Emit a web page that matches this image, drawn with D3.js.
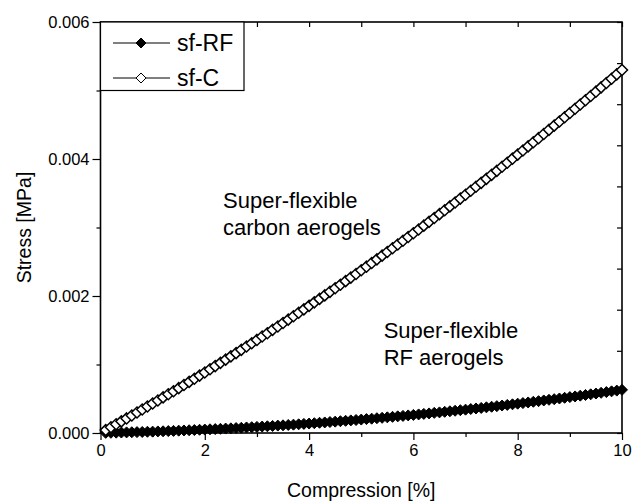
<!DOCTYPE html>
<html><head><meta charset="utf-8">
<script src="https://cdn.jsdelivr.net/npm/d3@7"></script>
<style>body{margin:0;background:#fff;} text{font-family:"Liberation Sans",Arial,sans-serif;fill:#000;}</style>
</head><body><svg id="c" width="635" height="503"></svg>
<script>
const compression = [0.1,0.2,0.3,0.4,0.5,0.6,0.7,0.8,0.9,1.0,1.1,1.2,1.3,1.4,1.5,1.6,1.7,1.8,1.9,2.0,2.1,2.2,2.3,2.4,2.5,2.6,2.7,2.8,2.9,3.0,3.1,3.2,3.3,3.4,3.5,3.6,3.7,3.8,3.9,4.0,4.1,4.2,4.3,4.4,4.5,4.6,4.7,4.8,4.9,5.0,5.1,5.2,5.3,5.4,5.5,5.6,5.7,5.8,5.9,6.0,6.1,6.2,6.3,6.4,6.5,6.6,6.7,6.8,6.9,7.0,7.1,7.2,7.3,7.4,7.5,7.6,7.7,7.8,7.9,8.0,8.1,8.2,8.3,8.4,8.5,8.6,8.7,8.8,8.9,9.0,9.1,9.2,9.3,9.4,9.5,9.6,9.7,9.8,9.9,10.0];
const stressRF = [0.000002,0.000003,0.000005,0.000007,0.000009,0.000011,0.000013,0.000015,0.000018,0.000020,0.000023,0.000025,0.000028,0.000031,0.000034,0.000037,0.000040,0.000043,0.000047,0.000050,0.000054,0.000057,0.000061,0.000065,0.000068,0.000072,0.000076,0.000081,0.000085,0.000089,0.000094,0.000098,0.000103,0.000108,0.000112,0.000117,0.000122,0.000127,0.000133,0.000138,0.000143,0.000149,0.000154,0.000160,0.000166,0.000172,0.000178,0.000184,0.000190,0.000196,0.000203,0.000209,0.000216,0.000222,0.000229,0.000236,0.000243,0.000250,0.000257,0.000264,0.000271,0.000279,0.000286,0.000294,0.000301,0.000309,0.000317,0.000325,0.000333,0.000341,0.000350,0.000358,0.000366,0.000375,0.000383,0.000392,0.000401,0.000410,0.000419,0.000428,0.000437,0.000446,0.000456,0.000465,0.000475,0.000485,0.000494,0.000504,0.000514,0.000524,0.000534,0.000545,0.000555,0.000565,0.000576,0.000587,0.000597,0.000608,0.000619,0.000630];
const stressC = [0.000042,0.000084,0.000127,0.000170,0.000213,0.000256,0.000299,0.000343,0.000387,0.000431,0.000475,0.000520,0.000565,0.000610,0.000655,0.000700,0.000746,0.000792,0.000838,0.000884,0.000931,0.000977,0.001024,0.001071,0.001119,0.001166,0.001214,0.001262,0.001311,0.001359,0.001408,0.001457,0.001506,0.001555,0.001605,0.001655,0.001705,0.001755,0.001805,0.001856,0.001907,0.001958,0.002009,0.002061,0.002113,0.002165,0.002217,0.002269,0.002322,0.002375,0.002428,0.002481,0.002535,0.002589,0.002643,0.002697,0.002751,0.002806,0.002861,0.002916,0.002971,0.003027,0.003083,0.003139,0.003195,0.003251,0.003308,0.003365,0.003422,0.003479,0.003537,0.003594,0.003652,0.003710,0.003769,0.003827,0.003886,0.003945,0.004005,0.004064,0.004124,0.004184,0.004244,0.004304,0.004365,0.004426,0.004487,0.004548,0.004609,0.004671,0.004733,0.004795,0.004857,0.004920,0.004983,0.005046,0.005109,0.005172,0.005236,0.005300];
const seriesNames = ["sf-RF","sf-C"];
const xTicks = [0,2,4,6,8,10];
const xMinor = [1,3,5,7,9];
const yTicks = [0,0.002,0.004,0.006];
const yMinor = [0.001,0.003,0.005];
const yTickLabels = ["0.000","0.002","0.004","0.006"];
const annotations = [
  {lines:["Super-flexible","carbon aerogels"], x:2.35, y:0.00329},
  {lines:["Super-flexible","RF aerogels"], x:5.43, y:0.00138}
];

const L=100.5, R=622, T=22, B=433;
const svg = d3.select("#c");
const x = d3.scaleLinear().domain([0,10]).range([L,R]);
const y = d3.scaleLinear().domain([0,0.006]).range([B,T]);

const diamond = r => `M0,${-r}L${r},0L0,${r}L${-r},0Z`;

// bottom axis
svg.append("g").attr("transform",`translate(0,${B})`)
  .call(d3.axisBottom(x).tickValues(xTicks).tickFormat(d3.format("d")).tickSize(7).tickPadding(4));
svg.append("g").attr("transform",`translate(0,${B})`)
  .call(d3.axisBottom(x).tickValues(xMinor).tickFormat("").tickSize(4));
// left axis
svg.append("g").attr("transform",`translate(${L},0)`)
  .call(d3.axisLeft(y).tickValues(yTicks).tickFormat((d,i)=>yTickLabels[i]).tickSize(8).tickPadding(3));
svg.append("g").attr("transform",`translate(${L},0)`)
  .call(d3.axisLeft(y).tickValues(yMinor).tickFormat("").tickSize(4));
// top axis inward ticks
svg.append("g").attr("transform",`translate(0,${T})`)
  .call(d3.axisBottom(x).tickValues(d3.range(0,11)).tickFormat("").tickSize(5));
// right axis inward ticks
svg.append("g").attr("transform",`translate(${R},0)`)
  .call(d3.axisLeft(d3.scaleLinear().domain([0,10]).range([B,T])).tickValues(d3.range(0,11)).tickFormat("").tickSize(5));

svg.selectAll(".domain").remove();
svg.selectAll(".tick line").attr("stroke","#000").attr("stroke-width",1.2);
svg.selectAll(".tick text").style("font-size","16.5px").style("font-family",'"Liberation Sans",Arial,sans-serif').attr("fill","#000");

// frame
svg.append("rect").attr("x",L).attr("y",T).attr("width",R-L).attr("height",B-T)
  .attr("fill","none").attr("stroke","#000").attr("stroke-width",1.6);

// data
const dRF = compression.map((c,i)=>[c,stressRF[i]]);
const dC = compression.map((c,i)=>[c,stressC[i]]);
const line = d3.line().x(d=>x(d[0])).y(d=>y(d[1]));
svg.append("path").attr("d",line(dRF)).attr("fill","none").attr("stroke","#000").attr("stroke-width",1);
svg.append("g").selectAll("path").data(dRF).join("path")
  .attr("transform",d=>`translate(${x(d[0])},${y(d[1])})`).attr("d",diamond(5.5))
  .attr("fill","#000").attr("stroke","#000").attr("stroke-width",1);
svg.append("path").attr("d",line(dC)).attr("fill","none").attr("stroke","#000").attr("stroke-width",1);
svg.append("g").selectAll("path").data(dC).join("path")
  .attr("transform",d=>`translate(${x(d[0])},${y(d[1])})`).attr("d",diamond(5.5))
  .attr("fill","#fff").attr("stroke","#000").attr("stroke-width",1.5);

// legend
const lg = svg.append("g");
lg.append("rect").attr("x",L).attr("y",T).attr("width",244-L).attr("height",y(0.005)-T)
  .attr("fill","#fff").attr("stroke","#000").attr("stroke-width",1.2);
seriesNames.forEach((n,i)=>{
  const yy = 43 + i*35;
  lg.append("line").attr("x1",113).attr("x2",170).attr("y1",yy).attr("y2",yy).attr("stroke","#000").attr("stroke-width",1);
  lg.append("path").attr("transform",`translate(141,${yy})`).attr("d",diamond(5))
    .attr("fill",i===0?"#000":"#fff").attr("stroke","#000").attr("stroke-width",1);
  lg.append("text").attr("x",177).attr("y",yy+8).style("font-size","23px").text(n);
});

// annotations
annotations.forEach(a=>{
  const t = svg.append("text").attr("x",x(a.x)).attr("y",y(a.y)).style("font-size","22px");
  a.lines.forEach((s,i)=>t.append("tspan").attr("x",x(a.x)).attr("dy",i===0?0:27).text(s));
});

// axis titles
svg.append("text").attr("x",(L+R)/2).attr("y",497).attr("text-anchor","middle").style("font-size","19.5px").text("Compression [%]");
svg.append("text").attr("transform",`translate(31,${(T+B)/2}) rotate(-90)`).attr("text-anchor","middle").style("font-size","19.5px").text("Stress [MPa]");
</script></body></html>
